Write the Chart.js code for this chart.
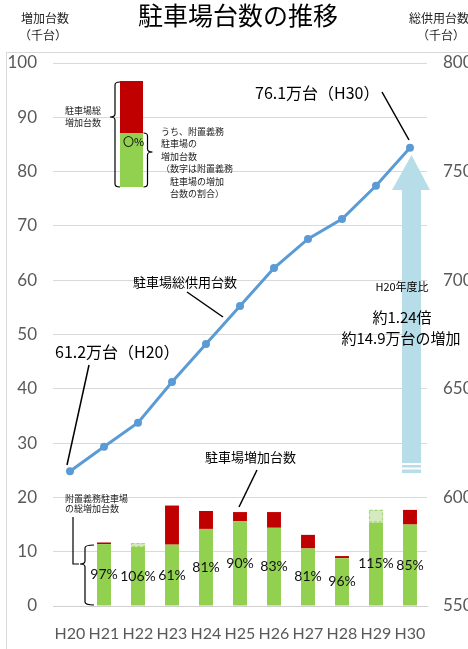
<!DOCTYPE html>
<html>
<head>
<meta charset="utf-8">
<script src="https://cdn.jsdelivr.net/npm/chart.js@4/dist/chart.umd.min.js"></script>
<style>
  html, body { margin: 0; padding: 0; background: #fff; }
  #wrap { width: 468px; height: 649px; position: relative; overflow: hidden; }
</style>
</head>
<body>
<div id="wrap"><canvas id="c" width="468" height="649"></canvas></div>
<script>
// Fiscal years
const years = ['H20', 'H21', 'H22', 'H23', 'H24', 'H25', 'H26', 'H27', 'H28', 'H29', 'H30'];
// Total parking capacity in service (thousand spaces, right axis)
const stockTotal = [612, 623.3, 634.4, 653.1, 670.6, 688.1, 705.6, 719.0, 728.2, 743.5, 761];
// Yearly increase of all parking spaces (thousand, left axis)
const increaseTotal = [null, 11.7, 10.9, 18.5, 17.5, 17.3, 17.3, 13.1, 9.2, 15.4, 17.7];
// Yearly increase of mandatory (附置義務) parking spaces (thousand, left axis)
const increaseRequired = [null, 11.4, 11.6, 11.3, 14.2, 15.6, 14.4, 10.6, 8.8, 17.7, 15.0];
// Share of mandatory parking in the yearly increase
const requiredShare = ['', '97%', '106%', '61%', '81%', '90%', '83%', '81%', '96%', '115%', '85%'];
// Axis ticks
const leftAxisTicks = [0, 10, 20, 30, 40, 50, 60, 70, 80, 90, 100];
const rightAxisTicks = [550, 600, 650, 700, 750, 800];

const JP = '"Noto Sans CJK JP", "Noto Sans", sans-serif';
const NUM = 'Lato, "Noto Sans", sans-serif';
const GREEN = '#92D050';
const RED = '#C00000';
const BLUE = '#5B9BD5';
const ARROW = '#B7DEE8';

// Split each bar into the mandatory part, the remainder, and the part by which
// the mandatory increase exceeds the total increase.
const greenPart = increaseTotal.map((t, i) => t == null ? null : Math.min(t, increaseRequired[i]));
const redPart = increaseTotal.map((t, i) => t == null ? null : Math.max(t - increaseRequired[i], 0));
const excessPart = increaseTotal.map((t, i) => t == null ? null : Math.max(increaseRequired[i] - t, 0));

function text(ctx, str, x, y, font, color, align) {
  ctx.font = font;
  ctx.fillStyle = color || '#000';
  ctx.textAlign = align || 'left';
  ctx.textBaseline = 'middle';
  ctx.fillText(str, x, y);
}

function line(ctx, pts, width) {
  ctx.beginPath();
  ctx.moveTo(pts[0][0], pts[0][1]);
  for (let i = 1; i < pts.length; i++) ctx.lineTo(pts[i][0], pts[i][1]);
  ctx.lineWidth = width || 1.5;
  ctx.strokeStyle = '#000';
  ctx.stroke();
}

// Curly bracket: vertical stroke at x, arms pointing by armDir, tip pointing opposite at tipY
function brace(ctx, x, y1, y2, tipY, armDir, arm, tip) {
  const r = 3;
  ctx.beginPath();
  ctx.moveTo(x + armDir * arm, y1);
  ctx.quadraticCurveTo(x, y1, x, y1 + r);
  ctx.lineTo(x, tipY - r);
  ctx.quadraticCurveTo(x, tipY, x - armDir * tip, tipY);
  ctx.quadraticCurveTo(x, tipY, x, tipY + r);
  ctx.lineTo(x, y2 - r);
  ctx.quadraticCurveTo(x, y2, x + armDir * arm, y2);
  ctx.lineWidth = 1.2;
  ctx.strokeStyle = '#000';
  ctx.stroke();
}

const decor = {
  id: 'decor',
  beforeDraw(chart) {
    const ctx = chart.ctx;
    ctx.save();
    ctx.strokeStyle = '#d9d9d9';
    ctx.lineWidth = 1;
    ctx.strokeRect(6.5, 52.5, 480, 620);
    ctx.restore();
  },
  beforeDatasetsDraw(chart) {
    // Growth arrow from H20 level to H30 level
    const ctx = chart.ctx;
    ctx.save();
    ctx.fillStyle = ARROW;
    const cx = 411.5;
    ctx.beginPath();
    ctx.moveTo(cx, 155);
    ctx.lineTo(430, 190);
    ctx.lineTo(421, 190);
    ctx.lineTo(421, 463);
    ctx.lineTo(402, 463);
    ctx.lineTo(402, 190);
    ctx.lineTo(392, 190);
    ctx.closePath();
    ctx.fill();
    ctx.fillRect(402, 465, 19, 2.5);
    ctx.fillRect(402, 469.5, 19, 3.5);
    ctx.restore();
  },
  afterDatasetsDraw(chart) {
    const ctx = chart.ctx;
    ctx.save();
    // dashed outline on the excess segments
    const exMeta = chart.getDatasetMeta(2);
    exMeta.data.forEach((el, i) => {
      if (!excessPart[i]) return;
      const w = el.width;
      ctx.setLineDash([3, 2]);
      ctx.strokeStyle = '#A9D67C';
      ctx.lineWidth = 1.2;
      ctx.strokeRect(el.x - w / 2 + 0.5, el.y + 0.5, w - 1, el.base - el.y - 1);
    });
    ctx.setLineDash([]);
    // share labels centred on the mandatory segment
    const gMeta = chart.getDatasetMeta(0);
    gMeta.data.forEach((el, i) => {
      if (!requiredShare[i]) return;
      text(ctx, requiredShare[i], el.x, (el.y + el.base) / 2, '14px ' + NUM, '#111', 'center');
    });
    ctx.restore();
  },
  afterDraw(chart) {
    const ctx = chart.ctx;
    ctx.save();
    // titles
    text(ctx, '駐車場台数の推移', 238, 15, '25px ' + JP, '#000', 'center');
    text(ctx, '増加台数', 45, 18, '12px ' + JP, '#222', 'center');
    text(ctx, '（千台）', 43, 35, '12px ' + JP, '#222', 'center');
    text(ctx, '総供用台数', 439, 18, '12px ' + JP, '#222', 'center');
    text(ctx, '（千台）', 441, 35, '12px ' + JP, '#222', 'center');

    // explanatory bar
    ctx.fillStyle = RED;
    ctx.fillRect(120, 81, 23, 52);
    ctx.fillStyle = GREEN;
    ctx.fillRect(120, 133, 23, 54);
    text(ctx, '〇%', 123, 142, '11px ' + JP, '#000', 'left');
    brace(ctx, 115, 82, 187, 117, 1, 5, 5);
    brace(ctx, 147.5, 133, 187, 152, -1, 4, 5);
    const sf = '9px ' + JP;
    text(ctx, '駐車場総', 65, 111, sf, '#222');
    text(ctx, '増加台数', 65, 123, sf, '#222');
    const expl = ['うち、附置義務', '駐車場の', '増加台数', '（数字は附置義務', '　駐車場の増加', '　台数の割合）'];
    expl.forEach((s, k) => text(ctx, s, 161, 131.5 + k * 12.4, sf, '#222'));

    // callouts
    const big = '16px ' + JP;
    text(ctx, '76.1万台（H30）', 255, 93, big, '#000');
    line(ctx, [[382, 92], [409, 140]]);
    text(ctx, '61.2万台（H20）', 55, 352, big, '#000');
    line(ctx, [[89, 365], [67, 465]]);
    text(ctx, '駐車場総供用台数', 133, 282, '13px ' + JP, '#000');
    line(ctx, [[187, 292], [223, 317]]);
    text(ctx, '駐車場増加台数', 205, 457, '13px ' + JP, '#000');
    line(ctx, [[257, 470], [239, 507]]);
    text(ctx, '附置義務駐車場', 65, 499, '9px ' + JP, '#222');
    text(ctx, 'の総増加台数', 65, 509, '9px ' + JP, '#222');
    line(ctx, [[73, 517], [73, 564], [79, 564]], 1.2);
    brace(ctx, 85, 545, 605, 564, 1, 9, 5);

    // growth note
    text(ctx, 'H20年度比', 402, 287, '11px ' + JP, '#000', 'center');
    text(ctx, '約1.24倍', 402, 317, '15px ' + JP, '#000', 'center');
    text(ctx, '約14.9万台の増加', 401, 338, '15px ' + JP, '#000', 'center');
    ctx.restore();
  }
};

const tickFont = { family: NUM, size: 17 };

new Chart(document.getElementById('c'), {
  type: 'bar',
  data: {
    labels: years,
    datasets: [
      { label: '附置義務', data: greenPart, backgroundColor: GREEN, stack: 'inc', yAxisID: 'y', order: 1,
        barPercentage: 0.41, categoryPercentage: 1 },
      { label: 'その他', data: redPart, backgroundColor: RED, stack: 'inc', yAxisID: 'y', order: 1,
        barPercentage: 0.41, categoryPercentage: 1 },
      { label: '超過', data: excessPart, backgroundColor: '#D5EBBF', stack: 'inc', yAxisID: 'y', order: 1,
        barPercentage: 0.41, categoryPercentage: 1 },
      { type: 'line', label: '駐車場総供用台数', data: stockTotal, yAxisID: 'y1', order: 0,
        borderColor: BLUE, borderWidth: 3, pointRadius: 4, pointBackgroundColor: BLUE,
        pointBorderWidth: 0, tension: 0, fill: false }
    ]
  },
  options: {
    responsive: false,
    devicePixelRatio: 1,
    animation: false,
    layout: { padding: { top: 63, left: 0, right: 0, bottom: 0 } },
    plugins: { legend: { display: false }, tooltip: { enabled: false }, title: { display: false } },
    scales: {
      x: {
        stacked: true,
        grid: { display: false, drawTicks: false },
        border: { display: true, color: '#d0d0d0' },
        ticks: { color: '#595959', font: { family: NUM, size: 16 }, padding: 18,
                 maxRotation: 0, minRotation: 0, autoSkip: false },
        afterFit(s) { s.height = 43; }
      },
      y: {
        position: 'left',
        stacked: true,
        min: leftAxisTicks[0],
        max: leftAxisTicks[leftAxisTicks.length - 1],
        grid: { color: '#d9d9d9', drawTicks: false },
        border: { display: false },
        ticks: { stepSize: leftAxisTicks[1] - leftAxisTicks[0], color: '#595959', font: tickFont, padding: 16 },
        afterFit(s) { s.width = 53; }
      },
      y1: {
        position: 'right',
        min: rightAxisTicks[0],
        max: rightAxisTicks[rightAxisTicks.length - 1],
        grid: { display: false, drawTicks: false },
        border: { display: false },
        ticks: { stepSize: rightAxisTicks[1] - rightAxisTicks[0], color: '#595959', font: tickFont, padding: 16 },
        afterFit(s) { s.width = 41; }
      }
    }
  },
  plugins: [decor]
});
</script>
</body>
</html>
